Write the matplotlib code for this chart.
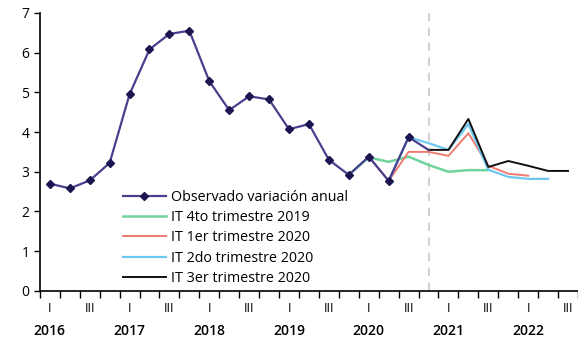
import numpy as np
import matplotlib
matplotlib.use("Agg")
import matplotlib.pyplot as plt

plt.rcParams['font.family'] = ['Open Sans', 'DejaVu Sans']

##-----------DATA-----------##
years = ['2016', '2017', '2018', '2019', '2020', '2021', '2022']
roman = ['I', 'III']
# quarterly index: 0 = 2016 Q1
observado = [2.70, 2.58, 2.78, 3.22, 4.95, 6.08, 6.47, 6.55, 5.28, 4.55,
             4.90, 4.82, 4.07, 4.20, 3.30, 2.92, 3.38, 2.77, 3.87, 3.55]
it_4to_2019 = [2.92, 3.36, 3.25, 3.38, 3.17, 3.00, 3.04, 3.04]
it_1er_2020 = [3.38, 2.77, 3.50, 3.50, 3.40, 3.97, 3.15, 2.95, 2.90]
it_2do_2020 = [2.77, 3.87, 3.72, 3.55, 4.20, 3.05, 2.87, 2.82, 2.82]
it_3er_2020 = [3.55, 3.55, 4.33, 3.12, 3.27, 3.15, 3.02, 3.02]
start_4to, start_1er, start_2do, start_3er = 15, 16, 17, 19
corte = 19

##-----------FIGURE-----------##
fig = plt.figure(figsize=(5.78, 3.39), dpi=100)
ax = fig.add_axes([0.069, 0.142, 0.931, 0.820])

x_obs = np.arange(len(observado))
ax.plot(x_obs, observado, color='#4a3f8c', lw=1.6, marker='D', ms=4.5,
        mfc='#1c1650', mec='#1c1650', markevery=list(range(len(observado) - 1)),
        label='Observado variación anual', zorder=3)
ax.plot(np.arange(len(it_4to_2019)) + start_4to, it_4to_2019, color='#6fd39c', lw=1.8,
        label='IT 4to trimestre 2019', zorder=2)
ax.plot(np.arange(len(it_1er_2020)) + start_1er, it_1er_2020, color='#ef7b70', lw=1.4,
        label='IT 1er trimestre 2020', zorder=2)
ax.plot(np.arange(len(it_2do_2020)) + start_2do, it_2do_2020, color='#6cc8f0', lw=1.6,
        label='IT 2do trimestre 2020', zorder=2)
ax.plot(np.arange(len(it_3er_2020)) + start_3er, it_3er_2020, color='#111111', lw=1.4,
        label='IT 3er trimestre 2020', zorder=2)

ax.axvline(corte, color='#c8c8c8', lw=1.2, ls=(0, (5, 4)), zorder=1)

ax.set_ylim(0, 7)
ax.set_yticks(range(0, 8))
ax.set_xlim(-0.5, 26.3)
for s in ['top', 'right']:
    ax.spines[s].set_visible(False)
ax.spines['left'].set_linewidth(1.2)
ax.spines['bottom'].set_linewidth(1.2)

# quarter boundary ticks
ax.set_xticks(np.arange(-0.5, 27, 1))
ax.set_xticklabels([])
ax.tick_params(axis='x', which='major', direction='out', length=5, width=1)
# roman labels on Q1 and Q3
qpos = [4 * i + q for i in range(len(years)) for q in (0, 2)]
ax.set_xticks(qpos, minor=True)
ax.set_xticklabels(roman * len(years), minor=True, fontsize=9)
ax.tick_params(axis='x', which='minor', length=0, pad=8)
ax.tick_params(axis='y', length=4, width=1, labelsize=10)

# year labels
sec = ax.secondary_xaxis('bottom')
sec.set_xticks([4 * i for i in range(len(years))])
sec.set_xticklabels(years, fontsize=10, fontweight='semibold')
sec.tick_params(length=0, pad=24)
sec.spines['bottom'].set_visible(False)

ax.legend(loc='lower left', bbox_to_anchor=(0.13, -0.03), frameon=False,
          fontsize=10.3, handlelength=3.0, labelspacing=0.38, handletextpad=0.35)

fig.savefig('out.png', dpi=100)
